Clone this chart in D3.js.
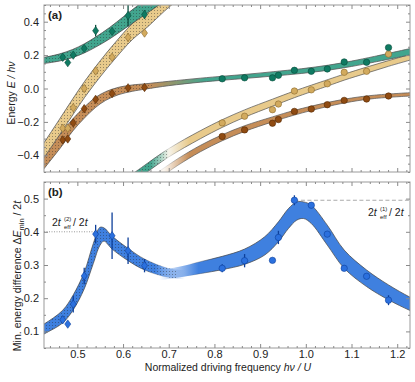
<!DOCTYPE html>
<html>
<head>
<meta charset="utf-8">
<script src="https://cdn.jsdelivr.net/npm/d3@7"></script>
<style>
  body { margin: 0; background: #fff; }
  text { font-family: "Liberation Sans", Arial, sans-serif; fill: #222; }
</style>
</head>
<body>
<svg id="chart" width="415" height="382"></svg>
<script>
// ---- data ----
const xLeft = [0.468, 0.479, 0.491, 0.515, 0.540, 0.576, 0.611, 0.647];
const xRight = [0.817, 0.866, 0.927, 0.940, 0.975, 1.012, 1.047, 1.084, 1.133, 1.181];

const tealLeft = [0.187, 0.155, 0.200, 0.240, 0.346, 0.342, 0.437, 0.443];
const tealLeftErr = [0.015, 0.015, 0.015, 0.015, 0.035, 0.015, 0.065, 0.025];
const goldLeft = [-0.238, -0.238, -0.115, 0.0, 0.105, 0.187, 0.306, 0.332];
const goldLeftErr = [0.012, 0.012, 0.015, 0.012, 0.015, 0.012, 0.025, 0.02];
const brownLeft = [-0.308, -0.302, -0.206, -0.121, -0.065, -0.030, 0.004, 0.006];
const brownLeftErr = [0.015, 0.012, 0.015, 0.012, 0.015, 0.012, 0.015, 0.015];

const tealRight = [0.058, 0.064, 0.064, 0.079, 0.109, 0.103, 0.117, 0.159, 0.157, 0.245];
const goldRight = [-0.206, -0.166, -0.127, -0.093, -0.015, -0.008, 0.028, 0.097, 0.103, 0.206];
const brownRight = [-0.287, -0.248, -0.208, -0.186, -0.137, -0.123, -0.097, -0.071, -0.063, -0.045];

const gapLeft = [0.135, 0.122, 0.182, 0.267, 0.393, 0.388, 0.343, 0.298];
const gapLeftErr = [0.01, 0.008, 0.025, 0.025, 0.028, 0.07, 0.04, 0.02];
const gapRight = [0.290, 0.313, 0.314, 0.383, 0.495, 0.480, 0.393, 0.290, 0.266, 0.194];
const gapRightErr = [0.012, 0.02, 0.008, 0.02, 0.015, 0.008, 0.008, 0.008, 0.008, 0.015];

// theory bands, panel (a): [x, centre, half width]
const bandTealUp = [[0.40, 0.158, 0.016], [0.427, 0.168, 0.018], [0.46, 0.185, 0.021], [0.49, 0.21, 0.024],
  [0.515, 0.24, 0.027], [0.54, 0.278, 0.03], [0.57, 0.33, 0.034], [0.60, 0.39, 0.038], [0.63, 0.45, 0.042],
  [0.66, 0.51, 0.045], [0.69, 0.57, 0.048], [0.72, 0.63, 0.05]];
const bandGoldUp = [[0.40, -0.48, 0.045], [0.427, -0.37, 0.045], [0.46, -0.235, 0.047], [0.49, -0.11, 0.048],
  [0.516, -0.005, 0.048], [0.55, 0.118, 0.048], [0.58, 0.218, 0.048], [0.62, 0.34, 0.048], [0.655, 0.42, 0.048],
  [0.69, 0.51, 0.048], [0.72, 0.58, 0.048]];
const bandBrown = [[0.40, -0.54, 0.04], [0.427, -0.44, 0.04], [0.462, -0.317, 0.042], [0.491, -0.215, 0.036],
  [0.515, -0.145, 0.033], [0.539, -0.085, 0.03], [0.562, -0.045, 0.026], [0.59, -0.015, 0.022], [0.62, 0.002, 0.019],
  [0.648, 0.012, 0.016], [0.70, 0.03, 0.013], [0.77, 0.05, 0.012], [0.82, 0.062, 0.012], [0.87, 0.073, 0.012],
  [0.93, 0.088, 0.013], [0.99, 0.104, 0.014], [1.05, 0.125, 0.015], [1.10, 0.148, 0.016], [1.15, 0.175, 0.017],
  [1.228, 0.22, 0.019]];
const bandGoldLow = [[0.60, -0.58, 0.028], [0.64, -0.50, 0.026], [0.70, -0.385, 0.025], [0.769, -0.277, 0.024],
  [0.817, -0.21, 0.023], [0.866, -0.15, 0.022], [0.927, -0.085, 0.021], [0.975, -0.035, 0.02], [1.049, 0.035, 0.019],
  [1.084, 0.068, 0.018], [1.133, 0.11, 0.018], [1.181, 0.15, 0.017], [1.228, 0.187, 0.017]];
const bandBrownLow = [[0.66, -0.555, 0.022], [0.688, -0.50, 0.021], [0.72, -0.44, 0.02], [0.769, -0.36, 0.019],
  [0.817, -0.295, 0.018], [0.866, -0.24, 0.017], [0.927, -0.185, 0.015], [0.975, -0.145, 0.014], [1.049, -0.095, 0.012],
  [1.10, -0.068, 0.011], [1.15, -0.05, 0.01], [1.228, -0.035, 0.01]];

// theory bands, panel (b): [x, lower, upper]
const bandGapLeft = [[0.40, 0.07, 0.10], [0.427, 0.092, 0.122], [0.4675, 0.125, 0.163], [0.491, 0.165, 0.21],
  [0.515, 0.228, 0.278], [0.535, 0.305, 0.365], [0.549, 0.358, 0.413], [0.558, 0.372, 0.412], [0.576, 0.348, 0.387],
  [0.611, 0.313, 0.35], [0.647, 0.285, 0.318], [0.70, 0.262, 0.29], [0.75, 0.255, 0.283]];
const bandGapRight = [[0.66, 0.25, 0.28], [0.72, 0.262, 0.294], [0.769, 0.274, 0.31], [0.817, 0.286, 0.326],
  [0.866, 0.302, 0.348], [0.91, 0.33, 0.385], [0.94, 0.37, 0.43], [0.962, 0.41, 0.47], [0.98, 0.435, 0.49],
  [0.995, 0.44, 0.49], [1.012, 0.425, 0.48], [1.047, 0.36, 0.42], [1.084, 0.29, 0.345], [1.133, 0.235, 0.285],
  [1.181, 0.195, 0.24], [1.228, 0.163, 0.203], [1.26, 0.145, 0.182]];

const xTicks = [0.5, 0.6, 0.7, 0.8, 0.9, 1.0, 1.1, 1.2];
const yTicksA = [-0.4, -0.2, 0.0, 0.2, 0.4];
const yTicksB = [0.1, 0.2, 0.3, 0.4, 0.5];

// ---- layout ----
const L = 44, R = 410;
const svg = d3.select("#chart");
const x = d3.scaleLinear().domain([0.427, 1.228]).range([L, R]);
const ya = d3.scaleLinear().domain([-0.5, 0.5]).range([172, 5]);
const yb = d3.scaleLinear().domain([0.05, 0.55]).range([348, 182]);

const C = {
  teal: "#42a58e", tealPt: "#0f7a62", tealEdge: "#0a4d3d",
  gold: "#e8ca8b", goldPt: "#d2aa5e", goldEdge: "#8c6a2c",
  brown: "#c58d58", brownPt: "#8f4b12", brownEdge: "#552a05",
  blue: "#3f80df", bluePt: "#2b70de", blueEdge: "#0d3f9a"
};

const defs = svg.append("defs");
const dots = defs.append("pattern").attr("id", "dots").attr("patternUnits", "userSpaceOnUse")
  .attr("width", 3).attr("height", 3);
dots.append("circle").attr("cx", 1.5).attr("cy", 1.5).attr("r", 0.5).attr("fill", "#222").attr("opacity", 0.55);

function clip(id, y0, y1) {
  defs.append("clipPath").attr("id", id).append("rect")
    .attr("x", L).attr("y", y0).attr("width", R - L).attr("height", y1 - y0);
}
clip("clipA", 5, 172);
clip("clipB", 182, 348);
// clip to the left part only (for the dot texture)
function clipX(id, x1) {
  defs.append("clipPath").attr("id", id).append("rect")
    .attr("x", 0).attr("y", 0).attr("width", x(x1)).attr("height", 382);
}
clipX("dotsBrown", 0.665);
clipX("dotsGoldLow", 0.70);
clipX("dotsGap", 0.72);

function gradient(id, stops) {
  const g = defs.append("linearGradient").attr("id", id).attr("gradientUnits", "userSpaceOnUse")
    .attr("x1", 0).attr("x2", 415).attr("y1", 0).attr("y2", 0);
  stops.forEach(s => g.append("stop").attr("offset", x(s[0]) / 415).attr("stop-color", s[1])
    .attr("stop-opacity", s[2] == null ? 1 : s[2]));
}
gradient("gBrown", [[0.66, C.brown], [0.78, C.teal]]);
gradient("gGoldLow", [[0.66, C.teal], [0.70, "#f6f3ea"], [0.745, C.gold]]);
gradient("gBrownLow", [[0.69, "#fbf6ef"], [0.745, C.brown]]);
gradient("gEdgeGold", [[0.68, "#555", 0.9], [0.70, "#555", 0.2], [0.74, "#555", 0.9]]);
gradient("gEdgeBrownLow", [[0.69, "#555", 0.15], [0.745, "#555", 0.9]]);
gradient("gGapLeft", [[0.67, C.blue, 1], [0.735, C.blue, 0]]);
gradient("gGapRight", [[0.68, C.blue, 0], [0.765, C.blue, 1]]);
gradient("gEdgeGapLeft", [[0.62, "#444", 0.9], [0.70, "#444", 0]]);
gradient("gEdgeGapRight", [[0.74, "#444", 0], [0.80, "#444", 0.9]]);

// ---- frames and ticks ----
function frame(y, y0, y1, yTicks, yMinorStep, showX) {
  const g = svg.append("g");
  g.append("rect").attr("x", L).attr("y", y0).attr("width", R - L).attr("height", y1 - y0)
    .attr("fill", "none").attr("stroke", "#9a9a9a").attr("stroke-width", 1);
  const xMinor = d3.range(0.44, 1.23, 0.02).filter(v => !xTicks.some(t => Math.abs(t - v) < 1e-6));
  const yDom = y.domain();
  const yMinor = d3.range(yDom[0], yDom[1] + 1e-9, yMinorStep).filter(v => !yTicks.some(t => Math.abs(t - v) < 1e-6));
  const tick = a => a.call(s => s.select(".domain").remove())
    .call(s => s.selectAll("line").attr("stroke", "#8a8a8a"))
    .call(s => s.selectAll("text").attr("font-size", 11).attr("fill", "#222"));
  // bottom
  g.append("g").attr("transform", `translate(0,${y1})`)
    .call(d3.axisBottom(x).tickValues(xTicks).tickSize(-4).tickPadding(2.5).tickFormat(showX ? d3.format(".1f") : ""))
    .call(tick);
  g.append("g").attr("transform", `translate(0,${y1})`)
    .call(d3.axisBottom(x).tickValues(xMinor).tickSize(-2).tickFormat("")).call(tick);
  // top
  g.append("g").attr("transform", `translate(0,${y0})`)
    .call(d3.axisTop(x).tickValues(xTicks).tickSize(-4).tickFormat("")).call(tick);
  g.append("g").attr("transform", `translate(0,${y0})`)
    .call(d3.axisTop(x).tickValues(xMinor).tickSize(-2).tickFormat("")).call(tick);
  // left
  g.append("g").attr("transform", `translate(${L},0)`)
    .call(d3.axisLeft(y).tickValues(yTicks).tickSize(-4).tickPadding(5).tickFormat(d => d3.format(".1f")(d).replace("-", "\u2212")))
    .call(tick);
  g.append("g").attr("transform", `translate(${L},0)`)
    .call(d3.axisLeft(y).tickValues(yMinor).tickSize(-2).tickFormat("")).call(tick);
  // right
  g.append("g").attr("transform", `translate(${R},0)`)
    .call(d3.axisRight(y).tickValues(yTicks).tickSize(-4).tickFormat("")).call(tick);
  g.append("g").attr("transform", `translate(${R},0)`)
    .call(d3.axisRight(y).tickValues(yMinor).tickSize(-2).tickFormat("")).call(tick);
}

// ---- band helpers ----
const curve = d3.curveCatmullRom.alpha(0.5);
function bandArea(y, centred) {
  return d3.area().curve(curve).x(d => x(d[0]))
    .y0(d => y(centred ? d[1] - d[2] : d[1]))
    .y1(d => y(centred ? d[1] + d[2] : d[2]));
}
function bandEdges(y, centred) {
  const lo = d3.line().curve(curve).x(d => x(d[0])).y(d => y(centred ? d[1] - d[2] : d[1]));
  const hi = d3.line().curve(curve).x(d => x(d[0])).y(d => y(centred ? d[1] + d[2] : d[2]));
  return data => lo(data) + hi(data);
}
function drawBand(g, data, y, centred, fill, edge, dotClip) {
  g.append("path").attr("d", bandArea(y, centred)(data)).attr("fill", fill);
  if (dotClip !== null) {
    const p = g.append("path").attr("d", bandArea(y, centred)(data)).attr("fill", "url(#dots)");
    if (dotClip) p.attr("clip-path", `url(#${dotClip})`);
  }
  g.append("path").attr("d", bandEdges(y, centred)(data)).attr("fill", "none")
    .attr("stroke", edge).attr("stroke-width", 0.8);
}

// ---- markers ----
const diamond = (cx, cy) => `M${cx},${cy - 4.2}L${cx + 3},${cy}L${cx},${cy + 4.2}L${cx - 3},${cy}Z`;
function drawPoints(g, xs, vs, errs, y, fill, stroke, shape) {
  const pts = xs.map((xv, i) => ({ x: xv, v: vs[i], e: errs ? errs[i] : 0 }));
  g.selectAll(null).data(pts.filter(d => d.e > 0)).join("line")
    .attr("x1", d => x(d.x)).attr("x2", d => x(d.x))
    .attr("y1", d => y(d.v - d.e)).attr("y2", d => y(d.v + d.e))
    .attr("stroke", stroke).attr("stroke-width", 1.3);
  if (shape === "diamond") {
    g.selectAll(null).data(pts).join("path").attr("d", d => diamond(x(d.x), y(d.v)))
      .attr("fill", fill).attr("stroke", stroke).attr("stroke-width", 0.6);
  } else {
    g.selectAll(null).data(pts).join("circle").attr("cx", d => x(d.x)).attr("cy", d => y(d.v)).attr("r", 3.2)
      .attr("fill", fill).attr("stroke", stroke).attr("stroke-width", 0.6);
  }
}

// ---- panel (a) ----
const ga = svg.append("g").attr("clip-path", "url(#clipA)");
drawBand(ga, bandGoldLow, ya, true, "url(#gGoldLow)", "url(#gEdgeGold)", "dotsGoldLow");
drawBand(ga, bandBrownLow, ya, true, "url(#gBrownLow)", "url(#gEdgeBrownLow)", null);
drawBand(ga, bandBrown, ya, true, "url(#gBrown)", "#5a5a5a", "dotsBrown");
drawBand(ga, bandGoldUp, ya, true, C.gold, "#5a5a5a", "");
drawBand(ga, bandTealUp, ya, true, C.teal, "#4a4a4a", "");

drawPoints(ga, xLeft, brownLeft, brownLeftErr, ya, C.brownPt, C.brownEdge, "diamond");
drawPoints(ga, xLeft, goldLeft, goldLeftErr, ya, C.goldPt, C.goldEdge, "diamond");
drawPoints(ga, xLeft, tealLeft, tealLeftErr, ya, C.tealPt, C.tealEdge, "diamond");
drawPoints(ga, xRight, brownRight, null, ya, C.brownPt, C.brownEdge, "circle");
drawPoints(ga, xRight, goldRight, null, ya, C.goldPt, C.goldEdge, "circle");
drawPoints(ga, xRight, tealRight, null, ya, C.tealPt, C.tealEdge, "circle");

frame(ya, 5, 172, yTicksA, 0.05, false);

// ---- panel (b) ----
const gb = svg.append("g").attr("clip-path", "url(#clipB)");
gb.append("line").attr("x1", x(0.427)).attr("x2", x(0.545)).attr("y1", yb(0.4)).attr("y2", yb(0.4))
  .attr("stroke", "#999").attr("stroke-width", 1).attr("stroke-dasharray", "1,1.5");
gb.append("line").attr("x1", x(0.975)).attr("x2", x(1.228)).attr("y1", yb(0.495)).attr("y2", yb(0.495))
  .attr("stroke", "#aaa").attr("stroke-width", 1.2).attr("stroke-dasharray", "4,2.5");

drawBand(gb, bandGapRight, yb, false, "url(#gGapRight)", "url(#gEdgeGapRight)", null);
drawBand(gb, bandGapLeft, yb, false, "url(#gGapLeft)", "url(#gEdgeGapLeft)", "dotsGap");

drawPoints(gb, xLeft, gapLeft, gapLeftErr, yb, C.bluePt, C.blueEdge, "diamond");
drawPoints(gb, xRight, gapRight, gapRightErr, yb, C.bluePt, C.blueEdge, "circle");

frame(yb, 182, 348, yTicksB, 0.05, true);

// ---- annotations ----
svg.append("text").attr("x", 48).attr("y", 19).attr("font-size", 11.5).attr("font-weight", "bold").text("(a)");
svg.append("text").attr("x", 48).attr("y", 196).attr("font-size", 11.5).attr("font-weight", "bold").text("(b)");

function teffLabel(px, py, order) {
  const t = svg.append("text").attr("x", px).attr("y", py).attr("font-size", 10.5);
  t.append("tspan").text("2");
  t.append("tspan").attr("font-style", "italic").text("t");
  const sx = px + 12;
  svg.append("text").attr("x", sx).attr("y", py - 5.5).attr("font-size", 6).text(`(${order})`);
  svg.append("text").attr("x", sx).attr("y", py + 2.5).attr("font-size", 6).text("eff");
  const t2 = svg.append("text").attr("x", sx + 9).attr("y", py).attr("font-size", 10.5);
  t2.append("tspan").text(" / 2");
  t2.append("tspan").attr("font-style", "italic").text("t");
}
teffLabel(52, 226, 2);
teffLabel(368, 216, 1);

// axis titles
const tx = svg.append("text").attr("x", 228).attr("y", 371).attr("text-anchor", "middle").attr("font-size", 10.5);
tx.append("tspan").text("Normalized driving frequency ");
tx.append("tspan").attr("font-style", "italic").text("h\u03BD / U");

const ta = svg.append("text").attr("transform", "translate(15,93) rotate(-90)").attr("text-anchor", "middle").attr("font-size", 10.5);
ta.append("tspan").text("Energy ");
ta.append("tspan").attr("font-style", "italic").text("E / h\u03BD");

const tb = svg.append("text").attr("transform", "translate(21,276) rotate(-90)").attr("text-anchor", "middle").attr("font-size", 10.5);
tb.append("tspan").text("Min. energy difference \u0394");
tb.append("tspan").attr("font-style", "italic").text("E");
tb.append("tspan").attr("font-size", 7.5).attr("dy", 2.5).text("min");
tb.append("tspan").attr("dy", -2.5).text(" / 2");
tb.append("tspan").attr("font-style", "italic").text("t");
</script>
</body>
</html>
